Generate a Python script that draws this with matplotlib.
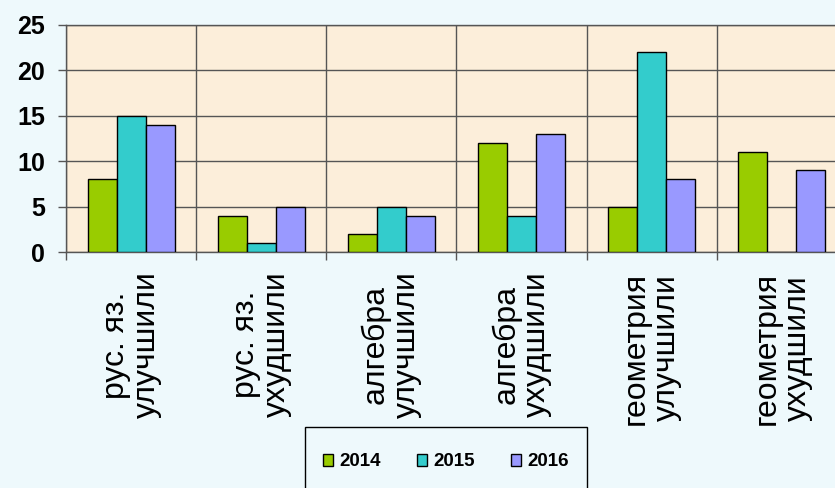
import numpy as np
import matplotlib.pyplot as plt
from matplotlib.patches import Rectangle

# data
categories = ["рус. яз.\nулучшили", "рус. яз.\nухудшили", "алгебра\nулучшили",
              "алгебра\nухудшили", "геометрия\nулучшили", "геометрия\nухудшили"]
years = ["2014", "2015", "2016"]
v2014 = [8, 4, 2, 12, 5, 11]
v2015 = [15, 1, 5, 4, 22, 0]
v2016 = [14, 5, 4, 13, 8, 9]
colors = ["#99CC00", "#33CCCC", "#9999FF"]

plt.rcParams['font.family'] = ['Liberation Sans', 'DejaVu Sans']

W, H = 835, 488
fig = plt.figure(figsize=(W / 100, H / 100), dpi=100, facecolor="#EEF9FC")
# axes runs a bit past the right edge, as in the original
ax = fig.add_axes([66 / W, 1 - 252 / H, 781 / W, 227 / H])
ax.set_facecolor("#FCEEDA")

x = np.arange(len(categories))
w = 0.223
for k, (vals, lab, c) in enumerate(zip([v2014, v2015, v2016], years, colors)):
    ax.bar(x + (k - 1) * w, vals, w, color=c, edgecolor="black", linewidth=1.0,
           label=lab, zorder=3)

ax.set_xlim(-0.5, len(categories) - 0.5)
ax.set_ylim(0, 25)
ax.set_yticks([0, 5, 10, 15, 20, 25])

# category boundaries: grid + outward ticks
ax.set_xticks(np.arange(-0.5, len(categories), 1.0))
ax.set_xticklabels([])
ax.set_xticks(x, minor=True)
ax.set_xticklabels(categories, minor=True, rotation=90, fontsize=23,
                   linespacing=1.05, multialignment="center")
ax.tick_params(axis="x", which="minor", length=0, pad=14)
ax.tick_params(axis="x", which="major", length=6, width=1.0, color="#555555", direction="out")
ax.tick_params(axis="y", length=6, width=1.0, color="#555555", direction="out",
               labelsize=18, pad=9)
for t in ax.get_yticklabels():
    t.set_fontweight("bold")

ax.grid(True, which="major", color="#555555", linewidth=1.0, zorder=1)
for s in ax.spines.values():
    s.set_color("#555555")
    s.set_linewidth(1.0)

# legend box runs off the bottom of the picture
fig.patches.append(Rectangle((305 / W, -0.05), 282 / W, (1 - 427 / H) + 0.05,
                             transform=fig.transFigure, facecolor="#EEF9FC",
                             edgecolor="black", linewidth=1.0, zorder=1))
fig.legend(loc="center left", bbox_to_anchor=(323 / W, 1 - 462 / H),
           ncol=3, frameon=False, borderpad=0, borderaxespad=0,
           prop={"weight": "bold", "size": 13.5},
           handlelength=0.55, handleheight=0.55, handletextpad=0.35,
           columnspacing=1.9)

fig.savefig("out.png", dpi=100, facecolor=fig.get_facecolor())
